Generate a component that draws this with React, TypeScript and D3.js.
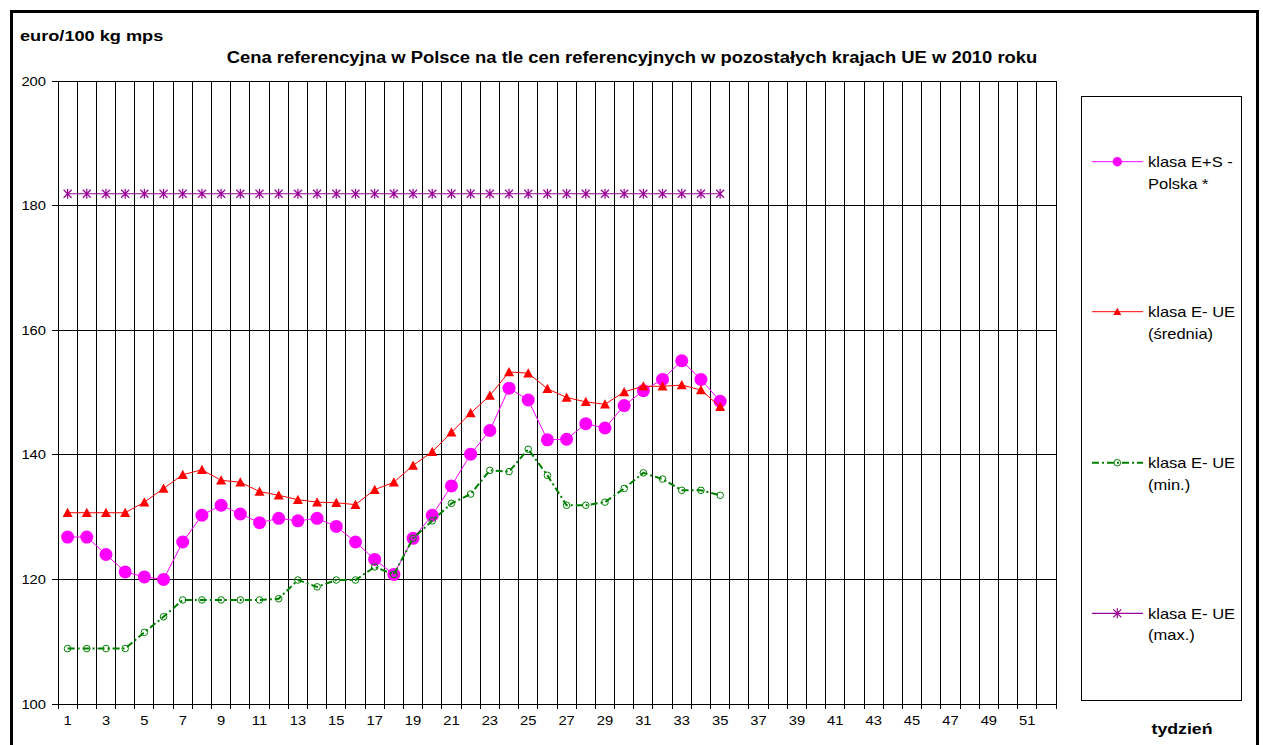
import React from 'react'
import * as d3 from 'd3'

// week numbers on the category axis
const weeks = Array.from({ length: 52 }, (_, i) => i + 1)
const yTicks = [100, 120, 140, 160, 180, 200]

// euro/100 kg, weeks 1..35 of 2010
const polska = [126.8, 126.8, 124.0, 121.2, 120.4, 120.0, 126.0, 130.3, 131.9, 130.5, 129.1, 129.8, 129.4, 129.8, 128.5, 126.0, 123.2, 120.8, 126.6, 130.3, 135.0, 140.1, 143.9, 150.7, 148.8, 142.4, 142.5, 145.0, 144.3, 147.9, 150.3, 152.1, 155.1, 152.1, 148.6]
const srednia = [130.7, 130.7, 130.7, 130.7, 132.4, 134.6, 136.8, 137.6, 135.9, 135.6, 134.1, 133.5, 132.8, 132.4, 132.3, 132.0, 134.4, 135.6, 138.3, 140.5, 143.6, 146.7, 149.5, 153.3, 153.1, 150.6, 149.2, 148.5, 148.1, 150.1, 151.0, 151.0, 151.2, 150.4, 147.7]
const minimum = [108.9, 108.9, 108.9, 108.9, 111.5, 114.0, 116.7, 116.7, 116.7, 116.7, 116.7, 116.9, 119.9, 118.8, 119.9, 119.9, 122.0, 120.8, 126.6, 129.4, 132.2, 133.7, 137.5, 137.3, 140.9, 136.7, 131.9, 131.9, 132.4, 134.6, 137.1, 136.1, 134.3, 134.3, 133.5]
const maksimum = [181.9, 181.9, 181.9, 181.9, 181.9, 181.9, 181.9, 181.9, 181.9, 181.9, 181.9, 181.9, 181.9, 181.9, 181.9, 181.9, 181.9, 181.9, 181.9, 181.9, 181.9, 181.9, 181.9, 181.9, 181.9, 181.9, 181.9, 181.9, 181.9, 181.9, 181.9, 181.9, 181.9, 181.9, 181.9]

const legendLabels = [
  ['klasa E+S -', 'Polska *'],
  ['klasa E- UE', '(średnia)'],
  ['klasa E- UE', '(min.)'],
  ['klasa E- UE', '(max.)'],
]

const FONT = '"Liberation Sans", Arial, sans-serif'
const SX = 1.18 // the source picture is stretched sideways

const width = 1263
const height = 745
const plot = { left: 58, right: 1056, top: 81, bottom: 704 }

function SText({ x, y, anchor = 'start', size = 12.5, bold = false, children }: any) {
  return (
    <text
      transform={`translate(${x},${y}) scale(${SX},1)`}
      textAnchor={anchor}
      fontSize={size}
      fontWeight={bold ? 'bold' : 'normal'}
      fontFamily={FONT}
      fill="#000"
    >
      {children}
    </text>
  )
}

function Marker({ kind, x, y, small = false }: any) {
  if (kind === 'circle') {
    return <circle cx={x} cy={y} r={small ? 4.7 : 6.5} fill="#FF00FF" />
  }
  if (kind === 'triangle') {
    const s = small ? 4 : 5
    return <path d={`M${x},${y - s} L${x + s},${y + s * 0.85} L${x - s},${y + s * 0.85} Z`} fill="#FF0000" />
  }
  if (kind === 'ring') {
    return <circle cx={x} cy={y} r={3.3} fill="none" stroke="#008000" strokeWidth={1} />
  }
  const s = 4
  return (
    <path
      d={`M${x - s},${y - s} L${x + s},${y + s} M${x - s},${y + s} L${x + s},${y - s} M${x},${y - s - 1} L${x},${y + s + 1}`}
      stroke="#990099"
      strokeWidth={1.2}
      fill="none"
    />
  )
}

const series = [
  { data: polska, color: '#FF00FF', width: 1, dash: null, marker: 'circle' },
  { data: srednia, color: '#FF0000', width: 1, dash: null, marker: 'triangle' },
  { data: minimum, color: '#008000', width: 2, dash: '7,3,2,3', marker: 'ring' },
  { data: maksimum, color: '#990099', width: 1.2, dash: null, marker: 'star' },
]

export default function App() {
  const x = d3.scaleBand<number>().domain(weeks).range([plot.left, plot.right]).padding(0)
  const y = d3.scaleLinear().domain([100, 200]).range([plot.bottom, plot.top])
  const bw = x.bandwidth()
  const cx = (i: number) => (x(weeks[i]) as number) + bw / 2

  const line = d3
    .line<number>()
    .x((_, i) => cx(i))
    .y((d) => y(d))

  const boundaries = weeks.map((w) => x(w) as number).concat([plot.right])
  const legendY = [161.7, 311.7, 462.7, 613.3]

  return (
    <svg
      width={width}
      height={height}
      style={{ position: 'absolute', left: 0, top: 0, background: '#fff' }}
    >
      <rect x={0} y={0} width={width} height={height} fill="#fff" />

      {/* grid */}
      <g stroke="#000" strokeWidth={1} shapeRendering="crispEdges">
        {yTicks.map((t) => (
          <line key={'h' + t} x1={plot.left - 6} x2={plot.right} y1={y(t)} y2={y(t)} />
        ))}
        {boundaries.map((b, i) => (
          <line key={'v' + i} x1={b} x2={b} y1={plot.top} y2={plot.bottom + 5} />
        ))}
      </g>

      {/* y tick labels */}
      {yTicks.map((t) => (
        <SText key={'yl' + t} x={46} y={y(t) + 4.5} anchor="end">
          {t}
        </SText>
      ))}
      {/* x tick labels */}
      {weeks
        .filter((w) => w % 2 === 1)
        .map((w) => (
          <SText key={'xl' + w} x={(x(w) as number) + bw / 2} y={725} anchor="middle">
            {w}
          </SText>
        ))}

      {/* series */}
      {series.map((s, k) => (
        <g key={'s' + k}>
          <path
            d={line(s.data) || ''}
            fill="none"
            stroke={s.color}
            strokeWidth={s.width}
            strokeDasharray={s.dash || undefined}
          />
          {s.data.map((v, i) => (
            <Marker key={i} kind={s.marker} x={cx(i)} y={y(v)} />
          ))}
        </g>
      ))}

      {/* legend */}
      <rect x={1081.5} y={96.5} width={160} height={604} fill="#fff" stroke="#000" strokeWidth={1} />
      {series.map((s, k) => (
        <g key={'lg' + k}>
          <line
            x1={1092}
            x2={1143}
            y1={legendY[k]}
            y2={legendY[k]}
            stroke={s.color}
            strokeWidth={s.width}
            strokeDasharray={s.dash || undefined}
          />
          <Marker kind={s.marker} x={1117.3} y={legendY[k]} small />
          <SText x={1148} y={legendY[k] + 5.3} size={14}>
            {legendLabels[k][0]}
          </SText>
          <SText x={1148} y={legendY[k] + 27} size={14}>
            {legendLabels[k][1]}
          </SText>
        </g>
      ))}

      {/* titles */}
      <SText x={20} y={41} size={15.4} bold>
        euro/100 kg mps
      </SText>
      <SText x={632} y={63} size={15.6} bold anchor="middle">
        Cena referencyjna w Polsce na tle cen referencyjnych w pozostałych krajach UE w 2010 roku
      </SText>
      <SText x={1182} y={734} size={15} bold anchor="middle">
        tydzień
      </SText>

      {/* outer frame */}
      <rect x={11.5} y={11.5} width={1246} height={760} fill="none" stroke="#000" strokeWidth={3} />
    </svg>
  )
}
